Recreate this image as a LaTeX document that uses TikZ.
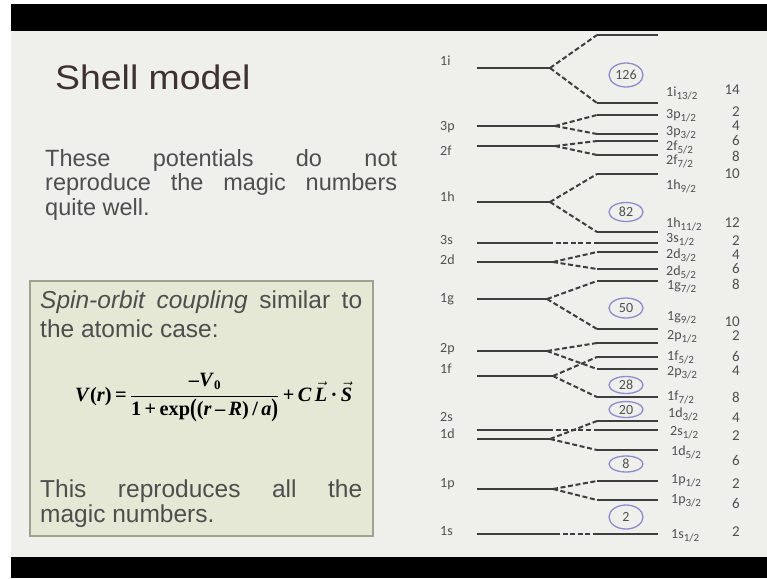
\documentclass[tikz,border=0pt]{standalone}
\usepackage[no-math]{fontspec}
\usepackage{graphicx}
\setmainfont{Liberation Sans}
\newfontfamily\calib{Carlito}
\newfontfamily\tnr{Liberation Serif}
\usetikzlibrary{shapes.geometric}

\definecolor{slidebg}{HTML}{EFEFEC}
\definecolor{boxfill}{HTML}{E4E8D4}
\definecolor{boxedge}{HTML}{9EA38F}
\definecolor{levelcol}{HTML}{3E3E3E}
\definecolor{labcol}{HTML}{505050}
\definecolor{magiccol}{HTML}{8C8CCF}
\definecolor{titlecol}{HTML}{3D3131}
\definecolor{bodycol}{HTML}{4E4E4E}
\definecolor{formcol}{HTML}{333333}

% subscript for the j values of the levels
\newcommand\jsub[1]{\raisebox{-3pt}{\fontsize{11}{11}\selectfont #1}}

% Woods-Saxon potential plus the spin-orbit term, set once in a box
\newsavebox\potentialbox
\newcommand\bi[1]{\textit{#1}}
\newcommand\bigparen[1]{\raisebox{-1.5pt}{\scalebox{1}[1.25]{#1}}}

% a level that splits into two spin-orbit partners
\newcommand\splitlevel[5]{%
  \coordinate (#1-l) at (477,#2);
  \coordinate (#1-j) at (#3,#2);
  \coordinate (#1-u) at (597,#4);
  \coordinate (#1-ue) at (658,#4);
  \coordinate (#1-d) at (597,#5);
  \coordinate (#1-de) at (658,#5);
  \draw[lvl] (#1-l) -- (#1-j);
  \draw[split] (#1-j) -- (#1-u);
  \draw[split] (#1-j) -- (#1-d);
  \draw[lvl] (#1-u) -- (#1-ue);
  \draw[lvl] (#1-d) -- (#1-de);
}
% an s level, which does not split
\newcommand\flatlevel[3]{%
  \coordinate (#1-l) at (477,#2);
  \coordinate (#1-j) at (#3,#2);
  \coordinate (#1-u) at (597,#2);
  \coordinate (#1-ue) at (658,#2);
  \draw[lvl] (#1-l) -- (#1-j);
  \draw[split] (#1-j) -- (#1-u);
  \draw[lvl] (#1-u) -- (#1-ue);
}

\begin{document}
\sbox\potentialbox{\tnr\bfseries\fontsize{20.3}{24}\selectfont
  $\displaystyle\mbox{\bi{V}(\bi{r})}\mbox{\,=\,}%
  \frac{\mbox{–\bi{V}\raisebox{-3pt}{\fontsize{13}{13}\selectfont 0}}}%
       {\mbox{1\,+\,exp\bigparen{(}(\bi{r}\,–\,\bi{R})\,/\,\bi{a}\bigparen{)}}}%
  \mbox{\,+\,\bi{C}\,}\vec{\mbox{\bi{L}}}\mbox{\,·\,}\vec{\mbox{\bi{S}}}$}%
\begin{tikzpicture}[x=1pt,y=-1pt,
  lvl/.style={draw=levelcol,line width=2.8pt},
  split/.style={draw=levelcol,line width=2pt,dash pattern=on 5pt off 2.6pt},
  leftlab/.style={anchor=base west,inner sep=0pt,text=labcol,font=\calib\fontsize{14}{14}\selectfont},
  rightlab/.style={anchor=base west,inner sep=0pt,text=labcol,font=\calib\fontsize{14}{14}\selectfont},
  count/.style={anchor=base east,inner sep=0pt,text=labcol,font=\calib\fontsize{15}{15}\selectfont},
  magic/.style={ellipse,draw=magiccol,line width=1.3pt,inner sep=0pt,minimum width=34pt,
    text=labcol,font=\calib\fontsize{14}{14}\selectfont},
  bodytext/.style={anchor=base west,inner sep=0pt,text=bodycol,font=\fontsize{23.5}{24}\selectfont},
  boxtext/.style={anchor=base west,inner sep=0pt,text=bodycol,font=\fontsize{24.5}{25}\selectfont}]

\useasboundingbox (0,0) rectangle (767,578);
% frame: white margin, black bars and the slide
\fill[white] (0,0) rectangle (767,578);
\fill[black] (11,4) rectangle (767,31);
\fill[slidebg] (11,31) rectangle (767,557);
\fill[black] (11,557) rectangle (767,578);

% title and text
\node[anchor=base west,inner sep=0pt,text=titlecol] (title) at (55,89)
  {\scalebox{1.1}[1]{\fontsize{34}{34}\selectfont Shell model}};
\node[bodytext] (p1) at (45,166) {\makebox[352pt][s]{These potentials do not}};
\node[bodytext] (p2) at (45,190.5) {\makebox[352pt][s]{reproduce the magic numbers}};
\node[bodytext] (p3) at (45,215) {quite well.};

% spin-orbit box
\draw[fill=boxfill,draw=boxedge,line width=1.6pt] (30,281) rectangle (373,536);
\node[boxtext] (b1) at (40,308) {\makebox[322pt][s]{\textit{Spin-orbit coupling} similar to}};
\node[boxtext] (b2) at (40,337) {the atomic case:};
\node[anchor=base west,inner sep=0pt,text=formcol] (formula) at (75,401) {\usebox\potentialbox};
\node[boxtext] (b3) at (40,497) {\makebox[322pt][s]{This reproduces all the}};
\node[boxtext] (b4) at (40,522) {magic numbers.};

% energy levels
\splitlevel{1i}{68}{550}{35}{103}
\splitlevel{3p}{126}{555}{115}{134}
\splitlevel{2f}{146}{555}{141}{155}
\splitlevel{1h}{202}{550}{174}{232}
\flatlevel{3s}{243}{548}
\splitlevel{2d}{262}{553}{252}{269}
\splitlevel{1g}{299}{547}{281}{329}
\splitlevel{2p}{351}{547}{343}{369}
\splitlevel{1f}{376}{553}{357}{397}
\flatlevel{2s}{430}{548}
\splitlevel{1d}{439}{550}{421}{450}
\splitlevel{1p}{489}{553}{481}{500}
\flatlevel{1s}{534}{555}

% labels of the unsplit levels
\node[leftlab] (l1i) at (440,66) {1i};
\node[leftlab] (l3p) at (440,130) {3p};
\node[leftlab] (l2f) at (440,155) {2f};
\node[leftlab] (l1h) at (440,201) {1h};
\node[leftlab] (l3s) at (440,244) {3s};
\node[leftlab] (l2d) at (440,264) {2d};
\node[leftlab] (l1g) at (440,302) {1g};
\node[leftlab] (l2p) at (440,352) {2p};
\node[leftlab] (l1f) at (440,373) {1f};
\node[leftlab] (l2s) at (440,421) {2s};
\node[leftlab] (l1d) at (440,438) {1d};
\node[leftlab] (l1p) at (440,487) {1p};
\node[leftlab] (l1s) at (440,535) {1s};

% labels of the split levels
\node[rightlab] (r1i13) at (666,96) {1i\jsub{13/2}};
\node[rightlab] (r3p1) at (666,118) {3p\jsub{1/2}};
\node[rightlab] (r3p3) at (666,135) {3p\jsub{3/2}};
\node[rightlab] (r2f5) at (666,150) {2f\jsub{5/2}};
\node[rightlab] (r2f7) at (666,164) {2f\jsub{7/2}};
\node[rightlab] (r1h9) at (666,189) {1h\jsub{9/2}};
\node[rightlab] (r1h11) at (666,227) {1h\jsub{11/2}};
\node[rightlab] (r3s1) at (666,242) {3s\jsub{1/2}};
\node[rightlab] (r2d3) at (666,258) {2d\jsub{3/2}};
\node[rightlab] (r2d5) at (666,275) {2d\jsub{5/2}};
\node[rightlab] (r1g7) at (667,289) {1g\jsub{7/2}};
\node[rightlab] (r1g9) at (667,320) {1g\jsub{9/2}};
\node[rightlab] (r2p1) at (667,339) {2p\jsub{1/2}};
\node[rightlab] (r1f5) at (667,360) {1f\jsub{5/2}};
\node[rightlab] (r2p3) at (667,375) {2p\jsub{3/2}};
\node[rightlab] (r1f7) at (667,400) {1f\jsub{7/2}};
\node[rightlab] (r1d3) at (668,417) {1d\jsub{3/2}};
\node[rightlab] (r2s1) at (670,435) {2s\jsub{1/2}};
\node[rightlab] (r1d5) at (671,455) {1d\jsub{5/2}};
\node[rightlab] (r1p1) at (671,483) {1p\jsub{1/2}};
\node[rightlab] (r1p3) at (671,503) {1p\jsub{3/2}};
\node[rightlab] (r1s1) at (671,538) {1s\jsub{1/2}};

% occupation of each sub-level
\node[count] (n1i13) at (740,94) {14};
\node[count] (n3p1) at (740,116) {2};
\node[count] (n3p3) at (740,130) {4};
\node[count] (n2f5) at (740,145) {6};
\node[count] (n2f7) at (740,161) {8};
\node[count] (n1h9) at (740,178) {10};
\node[count] (n1h11) at (740,227) {12};
\node[count] (n3s1) at (740,245) {2};
\node[count] (n2d3) at (740,259) {4};
\node[count] (n2d5) at (740,273) {6};
\node[count] (n1g7) at (740,289) {8};
\node[count] (n1g9) at (740,326) {10};
\node[count] (n2p1) at (740,340) {2};
\node[count] (n1f5) at (740,361) {6};
\node[count] (n2p3) at (740,375) {4};
\node[count] (n1f7) at (740,402) {8};
\node[count] (n1d3) at (740,422) {4};
\node[count] (n2s1) at (740,440) {2};
\node[count] (n1d5) at (740,465) {6};
\node[count] (n1p1) at (740,488) {2};
\node[count] (n1p3) at (740,508) {6};
\node[count] (n1s1) at (740,536) {2};

% magic numbers
\node[magic,minimum height=24pt] (m126) at (626,75) {126};
\node[magic,minimum height=19pt] (m82) at (626,212) {82};
\node[magic,minimum height=20pt] (m50) at (626,308) {50};
\node[magic,minimum height=17pt] (m28) at (626,385) {28};
\node[magic,minimum height=16pt] (m20) at (626,409.5) {20};
\node[magic,minimum height=16pt] (m8) at (626,464) {8};
\node[magic,minimum height=24pt] (m2) at (626,517) {2};
\end{tikzpicture}
\end{document}
